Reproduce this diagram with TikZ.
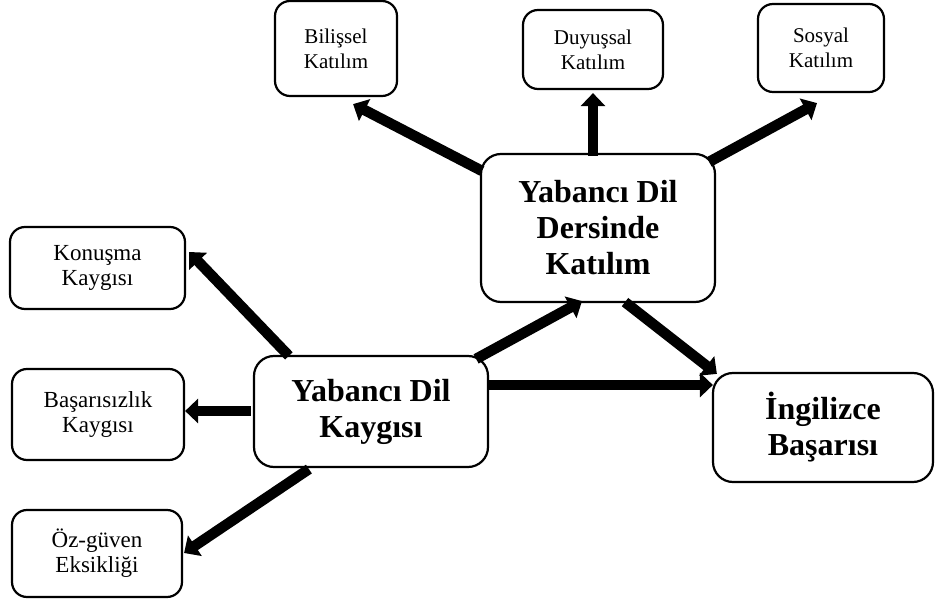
\documentclass[tikz,border=0pt]{standalone}
\usepackage{fontspec}
\setmainfont{Liberation Serif}
\usetikzlibrary{arrows.meta}

\begin{document}
\begin{tikzpicture}[x=1pt,y=-1pt,
  box/.style={draw, line width=2.2pt, fill=white, align=center, inner sep=0pt},
  smallbox/.style={box, rounded corners=15pt, font=\fontsize{21}{25}\selectfont},
  leftbox/.style={box, rounded corners=15pt, font=\fontsize{23}{25}\selectfont},
  bigbox/.style={box, rounded corners=20pt, font=\fontsize{32}{36}\selectfont\bfseries},
  flow/.style={line width=10.5pt, -{Triangle[length=13pt,width=24pt]}},
]
\useasboundingbox (0,0) rectangle (938,601);

% upper row: kinds of participation
\node[smallbox, minimum width=122pt, minimum height=95pt] (bil) at (336,48.5) {Bilişsel\\Katılım};
\node[smallbox, minimum width=140pt, minimum height=79pt] (duy) at (593,49.5) {Duyuşsal\\Katılım};
\node[smallbox, minimum width=126pt, minimum height=88pt] (sos) at (821,48) {Sosyal\\Katılım};

% central constructs
\node[bigbox, minimum width=234pt, minimum height=148pt] (kat) at (598,228) {Yabancı Dil\\Dersinde\\Katılım};
\node[bigbox, minimum width=234pt, minimum height=111pt] (kay) at (371,411.5) {Yabancı Dil\\Kaygısı};
\node[bigbox, minimum width=220pt, minimum height=109pt] (ing) at (823,427.5) {İngilizce\\Başarısı};

% left column: kinds of anxiety
\node[leftbox, minimum width=175pt, minimum height=82pt] (kon) at (97.5,268) {Konuşma\\Kaygısı};
\node[leftbox, minimum width=172pt, minimum height=91pt] (bas) at (98,414.5) {Başarısızlık\\Kaygısı};
\node[leftbox, minimum width=170pt, minimum height=87pt] (oz) at (97,553.5) {Öz-güven\\Eksikliği};

% connectors
\draw[flow] ([shift={(2,18)}]kat.north west) -- ([shift={(-45,7)}]bil.south east);
\draw[flow] ([shift={(-5,3)}]kat.north) -- ([shift={(0,3)}]duy.south);
\draw[flow] ([shift={(-7,9)}]kat.north east) -- ([shift={(-4,10)}]sos.south);
\draw[flow] ([shift={(36,1)}]kay.north west) -- ([shift={(3,-16)}]kon.east);
\draw[flow] ([shift={(-2,-0.5)}]kay.west) -- ([shift={(0,-3.5)}]bas.east);
\draw[flow] ([shift={(56,1)}]kay.south west) -- ([shift={(1,-0.5)}]oz.east);
\draw[flow] ([shift={(-13,4)}]kay.north east) -- ([shift={(-16,-2)}]kat.south);
\draw[flow] ([shift={(27,-1)}]kat.south) -- ([shift={(5,2)}]ing.north west);
\draw[flow] ([shift={(-1,-26.5)}]kay.east) -- ([shift={(1,-42.5)}]ing.west);
\end{tikzpicture}
\end{document}
